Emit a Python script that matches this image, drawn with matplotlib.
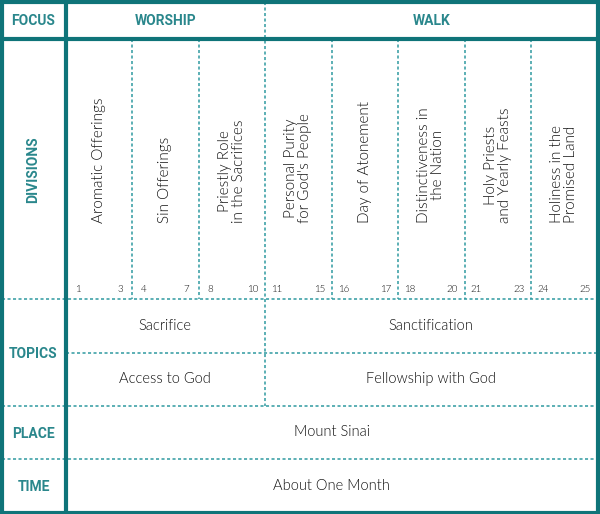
import matplotlib
matplotlib.use("Agg")
import matplotlib.pyplot as plt

row_labels = ["FOCUS", "DIVISIONS", "TOPICS", "PLACE", "TIME"]
focus = ["WORSHIP", "WALK"]
focus_span = [3, 5]  # number of divisions under each focus
divisions = ["Aromatic Offerings", "Sin Offerings", "Priestly Role\nin the Sacrifices",
             "Personal Purity\nfor God's People", "Day of Atonement",
             "Distinctiveness in\nthe Nation", "Holy Priests\nand Yearly Feasts",
             "Holiness in the\nPromised Land"]
chap_start = [1, 4, 8, 11, 16, 18, 21, 24]
chap_end = [3, 7, 10, 15, 17, 20, 23, 25]
topics1 = ["Sacrifice", "Sanctification"]
topics2 = ["Access to God", "Fellowship with God"]
place = "Mount Sinai"
time_txt = "About One Month"

DARK = "#0f7479"
DASH = "#2f9aa0"
HEAD = "#2a878c"
TXT = "#111111"

fig = plt.figure(figsize=(6.0, 5.14), dpi=100)
ax = fig.add_axes([0, 0, 1, 1])
ax.set_xlim(0, 600)
ax.set_ylim(514, 0)
ax.axis("off")

L, R = 1.5, 597.5
T, B = 1.5, 512.5
XC = 65.5
col_w = (R - XC) / len(divisions)
xs = [XC + i * col_w for i in range(len(divisions) + 1)]
y_head = 38.5
y_div = 299
y_t1 = 352.5
y_t2 = 406
y_pl = 459

hfont = dict(family=["Roboto", "DejaVu Sans"], fontweight="bold", fontstretch="condensed",
             color=HEAD)
tfont = dict(family=["Lato", "DejaVu Sans"], fontweight=300, color=TXT)

dash = dict(color=DASH, lw=1.1, ls=(0, (2.0, 1.6)))
# dashed horizontals
ax.plot([L, R], [y_div, y_div], **dash)
ax.plot([XC, R], [y_t1, y_t1], **dash)
ax.plot([L, R], [y_t2, y_t2], **dash)
ax.plot([L, R], [y_pl, y_pl], **dash)
# dashed verticals in divisions
split = focus_span[0]
for i in range(1, len(divisions)):
    if i == split:
        ax.plot([xs[i], xs[i]], [T, y_t2], **dash)
    else:
        ax.plot([xs[i], xs[i]], [y_head, y_div], **dash)

# solid lines
ax.plot([L, R], [y_head, y_head], color=DARK, lw=3.0, solid_capstyle="butt")
ax.plot([XC, XC], [T, B], color=DARK, lw=3.0, solid_capstyle="butt")
ax.plot([L, R, R, L, L], [T, T, B, B, T], color=DARK, lw=3.0, solid_joinstyle="miter")

# row labels
row_y = [(T + y_head) / 2, (y_head + y_div) / 2, (y_div + y_t2) / 2,
         (y_t2 + y_pl) / 2, (y_pl + B) / 2]
for lab, yy in zip(row_labels, row_y):
    rot = 90 if lab == "DIVISIONS" else 0
    ax.text((L + XC) / 2, yy + 1, lab, ha="center", va="center", fontsize=10,
            rotation=rot, **hfont)

# focus
x0 = xs[0]
for f, n in zip(focus, focus_span):
    x1 = x0 + n * col_w
    ax.text((x0 + x1) / 2, (T + y_head) / 2 + 1, f, ha="center", va="center",
            fontsize=10, **hfont)
    x0 = x1

# divisions
for i, d in enumerate(divisions):
    cx = (xs[i] + xs[i + 1]) / 2
    ax.text(cx, 223, d, rotation=90, ha="center", va="bottom", fontsize=11,
            multialignment="center", linespacing=1.0, **tfont)
    ax.text(xs[i] + 12, 289, str(chap_start[i]), ha="center", va="center",
            fontsize=7, **tfont)
    ax.text(xs[i + 1] - 12, 289, str(chap_end[i]), ha="center", va="center",
            fontsize=7, **tfont)

# topics
xsplit = xs[split]
for txts, (ya, yb) in [(topics1, (y_div, y_t1)), (topics2, (y_t1, y_t2))]:
    ax.text((xs[0] + xsplit) / 2, (ya + yb) / 2, txts[0], ha="center", va="center",
            fontsize=10.5, **tfont)
    ax.text((xsplit + xs[-1]) / 2, (ya + yb) / 2, txts[1], ha="center", va="center",
            fontsize=10.5, **tfont)

ax.text((XC + R) / 2, (y_t2 + y_pl) / 2, place, ha="center", va="center", fontsize=10.5, **tfont)
ax.text((XC + R) / 2, (y_pl + B) / 2, time_txt, ha="center", va="center", fontsize=10.5, **tfont)

fig.savefig("out.png", dpi=100)
